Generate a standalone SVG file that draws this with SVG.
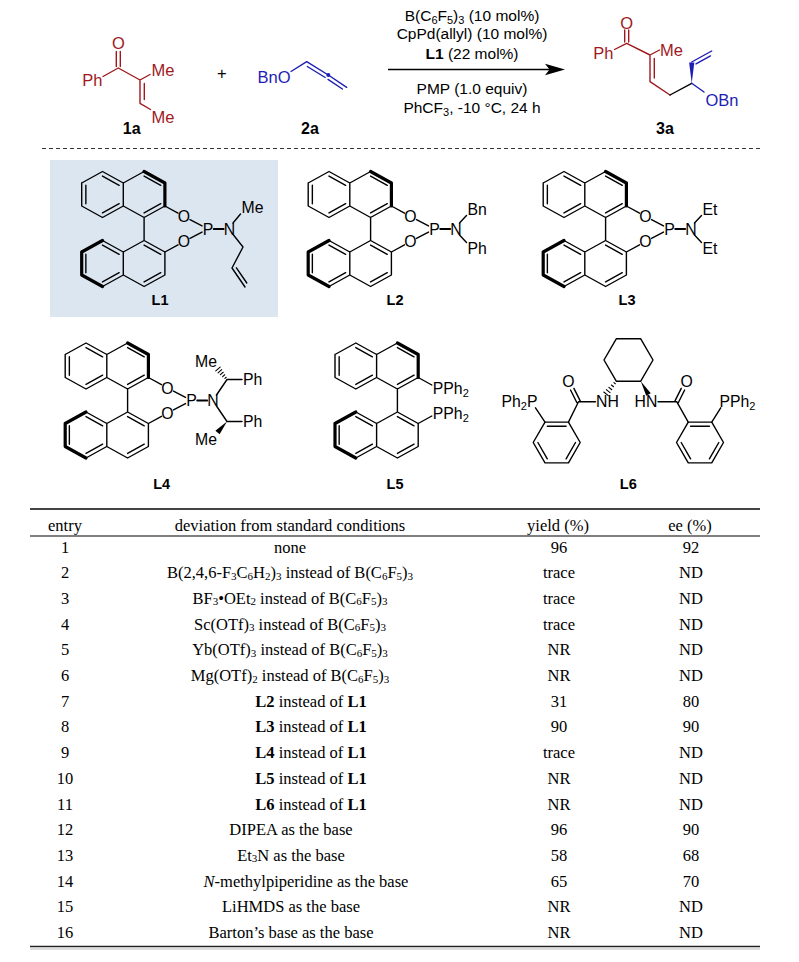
<svg xmlns="http://www.w3.org/2000/svg" xmlns:xlink="http://www.w3.org/1999/xlink" width="799" height="962" viewBox="0 0 799 962">
<style>
.b{fill:none;stroke:#000;stroke-width:1.4;stroke-linejoin:round;stroke-linecap:round}
.bb{fill:none;stroke:#000;stroke-width:3.2;stroke-linejoin:round;stroke-linecap:round}
.r{stroke:#A0191E}
.u{stroke:#1E1EB4}
.k{stroke:#000}
.a{font-family:"Liberation Sans",Arial,sans-serif;font-size:15.8px;fill:#000}
.a16{font-family:"Liberation Sans",Arial,sans-serif;font-size:16.5px}
.cond{font-family:"Liberation Sans",Arial,sans-serif;font-size:15.5px;text-anchor:middle;fill:#000}
.cb{font-family:"Liberation Sans",Arial,sans-serif;font-size:16px;font-weight:bold;text-anchor:middle;fill:#000}
.lb{font-family:"Liberation Sans",Arial,sans-serif;font-size:14.5px;font-weight:bold;text-anchor:middle;fill:#000}
.tm{font-family:"Liberation Serif","Times New Roman",serif;font-size:16.5px;text-anchor:middle;fill:#000}
.s{font-size:11px}
.mid{text-anchor:middle}
.end{text-anchor:end}
.fr{fill:#A0191E}
.fu{fill:#1E1EB4}
</style>
<defs>
<g id="binap">
<path class="b" d="M-20.8,-11.5 L0,-23 L20.8,-11.5 L41.6,-23 M20.8,-11.5 L20.8,11.5 M62.4,11.5 L41.6,23 L20.8,11.5 L0,23 L-20.8,11.5 L-20.8,-11.5 M-16.64,-9.2 L-16.64,9.2 M0,-18.4 L16.64,-9.2 M16.64,9.2 L0,18.4 M41.6,-18.4 L58.24,-9.2 M58.24,9.2 L41.6,18.4 M41.6,23 L41.6,46 M0,46 L20.8,57.5 L41.6,46 L62.4,57.5 L62.4,80.5 L41.6,92 L20.8,80.5 L0,92 M20.8,57.5 L20.8,80.5 M-16.64,59.8 L-16.64,78.2 M0,87.4 L16.64,78.2 M16.64,59.8 L0,50.6 M41.6,87.4 L58.24,78.2 M58.24,59.8 L41.6,50.6"/>
<path class="bb" d="M41.6,-23 L62.4,-11.5 L62.4,11.5 M0,46 L-20.8,57.5 L-20.8,80.5 L0,92"/>
</g>
<g id="bop">
<use xlink:href="#binap" href="#binap"/>
<path class="b" d="M62.4,11.5 L75.5,18.7 M62.4,57.5 L75.5,50.3 M87.5,25.1 L99.5,31.4 M87.5,43.9 L99.5,37.6"/>
<path class="b" style="stroke-width:1.8" d="M111.2,34.5 L121.2,34.5"/>
<text class="a mid" x="81.5" y="27.7">O</text>
<text class="a mid" x="81.5" y="52.7">O</text>
<text class="a mid" x="105.5" y="40.2">P</text>
<text class="a mid" x="127" y="40.2">N</text>
</g>
</defs>

<g id="cmpd-1a">
<path class="b r" d="M103,76.5 L118.3,68 L140,80 L150,74.5 M116.3,66.5 L116.3,51.5 M120.3,66.5 L120.3,51.5 M140,80 L140,103.3 L150.5,109.5 M144.3,83.5 L144.3,99.5"/>
<text class="a16 fr end" x="102.5" y="85.9">Ph</text>
<text class="a16 fr mid" x="118.3" y="49.2">O</text>
<text class="a16 fr" x="151.5" y="75.9">Me</text>
<text class="a16 fr" x="151.5" y="122.6">Me</text>
<text class="cb" x="131.7" y="134">1a</text>
</g>

<g id="plus">
<text class="a16 mid" x="221.7" y="79">+</text>
</g>

<g id="cmpd-2a">
<path class="b u" d="M291,71.5 L306.7,61.7 L328.3,75 L346.7,87.3 M307.3,66.5 L325.2,77.5 M328,79.4 L342.4,89"/>
<circle cx="328.3" cy="75" r="2" fill="#1E1EB4"/>
<text class="a16 fu end" x="290.5" y="82.6">BnO</text>
<text class="cb" x="310" y="134">2a</text>
</g>

<g id="connectors">
<line x1="388" y1="69.5" x2="550" y2="69.5" stroke="#000" stroke-width="1.3"/>
<polygon points="565,69.5 545,63.8 549.5,69.5 545,75.2" fill="#000"/>
</g>

<g id="conditions">
<text class="cond" x="472" y="20.5">B(C<tspan class="s" dy="3">6</tspan><tspan dy="-3">F</tspan><tspan class="s" dy="3">5</tspan><tspan dy="-3">)</tspan><tspan class="s" dy="3">3</tspan><tspan dy="-3"> (10 mol%)</tspan></text>
<text class="cond" x="472" y="39">CpPd(allyl) (10 mol%)</text>
<text class="cond" x="472" y="58.5"><tspan font-weight="bold">L1</tspan> (22 mol%)</text>
<text class="cond" x="472" y="94">PMP (1.0 equiv)</text>
<text class="cond" x="472" y="112.5">PhCF<tspan class="s" dy="3">3</tspan><tspan dy="-3">, -10 °C, 24 h</tspan></text>
</g>

<g id="cmpd-3a">
<path class="b r" d="M614.5,49.5 L626.7,43.3 L650,55 L659.5,50 M624.7,42 L624.7,30 M628.7,42 L628.7,30 M650,55 L650,81.7 L670,95 M654.3,58.5 L654.3,78"/>
<path class="b k" d="M670,95 L691.7,83.3"/>
<path class="b u" d="M691.7,62 L711.7,51 M696,63.9 L710.5,55.9 M691.7,83.3 L704,92"/>
<polygon points="691.7,83.3 694.3,62.5 689.1,62.5" fill="#1E1EB4"/>
<text class="a16 fr end" x="613.5" y="59.2">Ph</text>
<text class="a16 fr mid" x="626.7" y="29.2">O</text>
<text class="a16 fr" x="660" y="55.9">Me</text>
<text class="a16 fu" x="705.5" y="105.9">OBn</text>
<text class="cb" x="665" y="134">3a</text>
</g>

<line id="separator" x1="42" y1="148.5" x2="762" y2="148.5" stroke="#333" stroke-width="1.2" stroke-dasharray="4,3"/>

<g id="L1">
<rect x="50" y="160" width="228" height="157" fill="#DCE6F1"/>
<g transform="translate(102.5,194.5)">
<use xlink:href="#bop" href="#bop"/>
<path class="b" d="M130.5,28.5 L138,19.5 M131,40.5 L140.5,52.5 L129.5,73.5 L142.5,92.5 M133.9,73.3 L144.3,88.5"/>
<text class="a" x="139" y="18">Me</text>
</g>
<text class="lb" x="160" y="305">L1</text>
</g>

<g id="L2">
<g transform="translate(329,194.5)">
<use xlink:href="#bop" href="#bop"/>
<path class="b" d="M130.5,28.5 L137.5,21 M130.5,40.5 L137.5,48"/>
<text class="a" x="138.5" y="20.5">Bn</text>
<text class="a" x="138.5" y="59.5">Ph</text>
</g>
<text class="lb" x="395" y="305">L2</text>
</g>

<g id="L3">
<g transform="translate(564,194.5)">
<use xlink:href="#bop" href="#bop"/>
<path class="b" d="M130.5,28.5 L137.5,21 M130.5,40.5 L137.5,48"/>
<text class="a" x="138.5" y="20.5">Et</text>
<text class="a" x="138.5" y="59.5">Et</text>
</g>
<text class="lb" x="627" y="305">L3</text>
</g>

<g id="L4">
<g transform="translate(86,366)">
<use xlink:href="#bop" href="#bop"/>
<path class="b" d="M130.5,29 L141,13.5 L156,13.5 M130.5,40 L141,55.5 L156,55.5"/>
<path class="b" style="stroke-width:1.1" d="M140.24,11.28 L138.91,12.42 M138.72,8.75 L136.63,10.55 M137.2,6.22 L134.35,8.68 M135.68,3.69 L132.08,6.81 M134.15,1.17 L129.8,4.93"/>
<polygon points="141,55.5 133.62,68.33 129.38,64.67" fill="#000"/>
<text class="a" x="157" y="19">Ph</text>
<text class="a" x="157" y="61">Ph</text>
<text class="a end" x="131" y="1.1">Me</text>
<text class="a end" x="131" y="79">Me</text>
</g>
<text class="lb" x="161.7" y="488.5">L4</text>
</g>

<g id="L5">
<g transform="translate(355.8,366)">
<use xlink:href="#binap" href="#binap"/>
<path class="b" d="M62.4,11.5 L76,19 M62.4,57.5 L76,50"/>
<text class="a" x="77" y="27.7">PPh<tspan class="s" dy="3">2</tspan></text>
<text class="a" x="77" y="52.7">PPh<tspan class="s" dy="3">2</tspan></text>
</g>
<text class="lb" x="395" y="488.5">L5</text>
</g>

<g id="L6">
<path class="b" d="M616.25,338.8 L640.75,338.8 L653,360 L640.75,381.2 L616.25,381.2 L604,360 Z"/>
<path class="b" style="stroke-width:1.1" d="M615.32,383.75 L613.96,382.65 M613.56,386.72 L611.42,385 M611.8,389.7 L608.88,387.34 M610.04,392.67 L606.34,389.69 M608.28,395.65 L603.8,392.03"/>
<polygon points="640.75,381.2 650.75,393.19 646.25,395.81" fill="#000"/>
<path class="b" d="M595.5,401.7 L578.5,401.7 L568.45,422.1 M580.2,400.85 L573.94,388.33 M576.8,402.55 L570.54,390.03 M545,422.1 L535.5,407.8"/>
<path class="b" d="M545,422.1 L568.45,422.1 L580.2,442.5 L568.45,462.9 L545,462.9 L533.2,442.5 Z M547.3,426.2 L566.1,426.2 M575.5,442.5 L566.1,458.8 M547.3,458.8 L537.9,442.5"/>
<path class="b" d="M658,401.7 L676.7,401.7 L688.25,422.1 M678.4,402.55 L684.66,390.03 M675,400.85 L681.26,388.33 M711.75,422.1 L720.7,407.8"/>
<path class="b" d="M688.25,422.1 L711.75,422.1 L723.5,442.5 L711.75,462.9 L688.25,462.9 L676.5,442.5 Z M690.6,426.2 L709.4,426.2 M718.8,442.5 L709.4,458.8 M690.6,458.8 L681.2,442.5"/>
<text class="a mid" x="568.5" y="387.3">O</text>
<text class="a mid" x="686.7" y="387.3">O</text>
<text class="a" x="596" y="407.3">NH</text>
<text class="a" x="634.5" y="407.3">HN</text>
<text class="a end" x="537.5" y="407.3">Ph<tspan class="s" dy="3">2</tspan><tspan dy="-3">P</tspan></text>
<text class="a" x="719.5" y="407.3">PPh<tspan class="s" dy="3">2</tspan></text>
<text class="lb" x="628.3" y="488.5">L6</text>
</g>

<g id="table">
<line x1="30" y1="509" x2="760" y2="509" stroke="#444" stroke-width="2"/>
<line x1="30" y1="536" x2="760" y2="536" stroke="#000" stroke-width="1.2"/>
<line x1="30" y1="946.5" x2="760" y2="946.5" stroke="#222" stroke-width="1.6"/>
<line x1="30" y1="949" x2="760" y2="949" stroke="#bbb" stroke-width="1"/>
<text class="tm" x="65" y="531">entry</text>
<text class="tm" x="290" y="531">deviation from standard conditions</text>
<text class="tm" x="558" y="531">yield (%)</text>
<text class="tm" x="690" y="531">ee (%)</text>

<g id="col-entry">
<text class="tm" x="65" y="552.5">1</text>
<text class="tm" x="65" y="578.2">2</text>
<text class="tm" x="65" y="603.9">3</text>
<text class="tm" x="65" y="629.6">4</text>
<text class="tm" x="65" y="655.3">5</text>
<text class="tm" x="65" y="681">6</text>
<text class="tm" x="65" y="706.7">7</text>
<text class="tm" x="65" y="732.4">8</text>
<text class="tm" x="65" y="758.1">9</text>
<text class="tm" x="65" y="783.8">10</text>
<text class="tm" x="65" y="809.5">11</text>
<text class="tm" x="65" y="835.2">12</text>
<text class="tm" x="65" y="860.9">13</text>
<text class="tm" x="65" y="886.6">14</text>
<text class="tm" x="65" y="912.3">15</text>
<text class="tm" x="65" y="938">16</text>
</g>

<g id="col-deviation">
<text class="tm" x="290" y="552.5">none</text>
<text class="tm" x="290" y="578.2">B(2,4,6-F<tspan class="s" dy="1.5">3</tspan><tspan dy="-1.5">C</tspan><tspan class="s" dy="1.5">6</tspan><tspan dy="-1.5">H</tspan><tspan class="s" dy="1.5">2</tspan><tspan dy="-1.5">)</tspan><tspan class="s" dy="1.5">3</tspan><tspan dy="-1.5"> instead of B(C</tspan><tspan class="s" dy="1.5">6</tspan><tspan dy="-1.5">F</tspan><tspan class="s" dy="1.5">5</tspan><tspan dy="-1.5">)</tspan><tspan class="s" dy="1.5">3</tspan></text>
<text class="tm" x="290" y="603.9">BF<tspan class="s" dy="1.5">3</tspan><tspan dy="-1.5">•OEt</tspan><tspan class="s" dy="1.5">2</tspan><tspan dy="-1.5"> instead of B(C</tspan><tspan class="s" dy="1.5">6</tspan><tspan dy="-1.5">F</tspan><tspan class="s" dy="1.5">5</tspan><tspan dy="-1.5">)</tspan><tspan class="s" dy="1.5">3</tspan></text>
<text class="tm" x="290" y="629.6">Sc(OTf)<tspan class="s" dy="1.5">3</tspan><tspan dy="-1.5"> instead of B(C</tspan><tspan class="s" dy="1.5">6</tspan><tspan dy="-1.5">F</tspan><tspan class="s" dy="1.5">5</tspan><tspan dy="-1.5">)</tspan><tspan class="s" dy="1.5">3</tspan></text>
<text class="tm" x="290" y="655.3">Yb(OTf)<tspan class="s" dy="1.5">3</tspan><tspan dy="-1.5"> instead of B(C</tspan><tspan class="s" dy="1.5">6</tspan><tspan dy="-1.5">F</tspan><tspan class="s" dy="1.5">5</tspan><tspan dy="-1.5">)</tspan><tspan class="s" dy="1.5">3</tspan></text>
<text class="tm" x="290" y="681">Mg(OTf)<tspan class="s" dy="1.5">2</tspan><tspan dy="-1.5"> instead of B(C</tspan><tspan class="s" dy="1.5">6</tspan><tspan dy="-1.5">F</tspan><tspan class="s" dy="1.5">5</tspan><tspan dy="-1.5">)</tspan><tspan class="s" dy="1.5">3</tspan></text>
<text class="tm" x="311" y="706.7"><tspan font-weight="bold">L2</tspan> instead of <tspan font-weight="bold">L1</tspan></text>
<text class="tm" x="311" y="732.4"><tspan font-weight="bold">L3</tspan> instead of <tspan font-weight="bold">L1</tspan></text>
<text class="tm" x="311" y="758.1"><tspan font-weight="bold">L4</tspan> instead of <tspan font-weight="bold">L1</tspan></text>
<text class="tm" x="311" y="783.8"><tspan font-weight="bold">L5</tspan> instead of <tspan font-weight="bold">L1</tspan></text>
<text class="tm" x="311" y="809.5"><tspan font-weight="bold">L6</tspan> instead of <tspan font-weight="bold">L1</tspan></text>
<text class="tm" x="291" y="835.2">DIPEA as the base</text>
<text class="tm" x="291" y="860.9">Et<tspan class="s" dy="1.5">3</tspan><tspan dy="-1.5">N as the base</tspan></text>
<text class="tm" x="306" y="886.6"><tspan font-style="italic">N</tspan>-methylpiperidine as the base</text>
<text class="tm" x="291" y="912.3">LiHMDS as the base</text>
<text class="tm" x="291" y="938">Barton’s base as the base</text>
</g>

<g id="col-yield">
<text class="tm" x="559" y="552.5">96</text>
<text class="tm" x="559" y="578.2">trace</text>
<text class="tm" x="559" y="603.9">trace</text>
<text class="tm" x="559" y="629.6">trace</text>
<text class="tm" x="559" y="655.3">NR</text>
<text class="tm" x="559" y="681">NR</text>
<text class="tm" x="559" y="706.7">31</text>
<text class="tm" x="559" y="732.4">90</text>
<text class="tm" x="559" y="758.1">trace</text>
<text class="tm" x="559" y="783.8">NR</text>
<text class="tm" x="559" y="809.5">NR</text>
<text class="tm" x="559" y="835.2">96</text>
<text class="tm" x="559" y="860.9">58</text>
<text class="tm" x="559" y="886.6">65</text>
<text class="tm" x="559" y="912.3">NR</text>
<text class="tm" x="559" y="938">NR</text>
</g>

<g id="col-ee">
<text class="tm" x="691" y="552.5">92</text>
<text class="tm" x="691" y="578.2">ND</text>
<text class="tm" x="691" y="603.9">ND</text>
<text class="tm" x="691" y="629.6">ND</text>
<text class="tm" x="691" y="655.3">ND</text>
<text class="tm" x="691" y="681">ND</text>
<text class="tm" x="691" y="706.7">80</text>
<text class="tm" x="691" y="732.4">90</text>
<text class="tm" x="691" y="758.1">ND</text>
<text class="tm" x="691" y="783.8">ND</text>
<text class="tm" x="691" y="809.5">ND</text>
<text class="tm" x="691" y="835.2">90</text>
<text class="tm" x="691" y="860.9">68</text>
<text class="tm" x="691" y="886.6">70</text>
<text class="tm" x="691" y="912.3">ND</text>
<text class="tm" x="691" y="938">ND</text>
</g>
</g>
</svg>
